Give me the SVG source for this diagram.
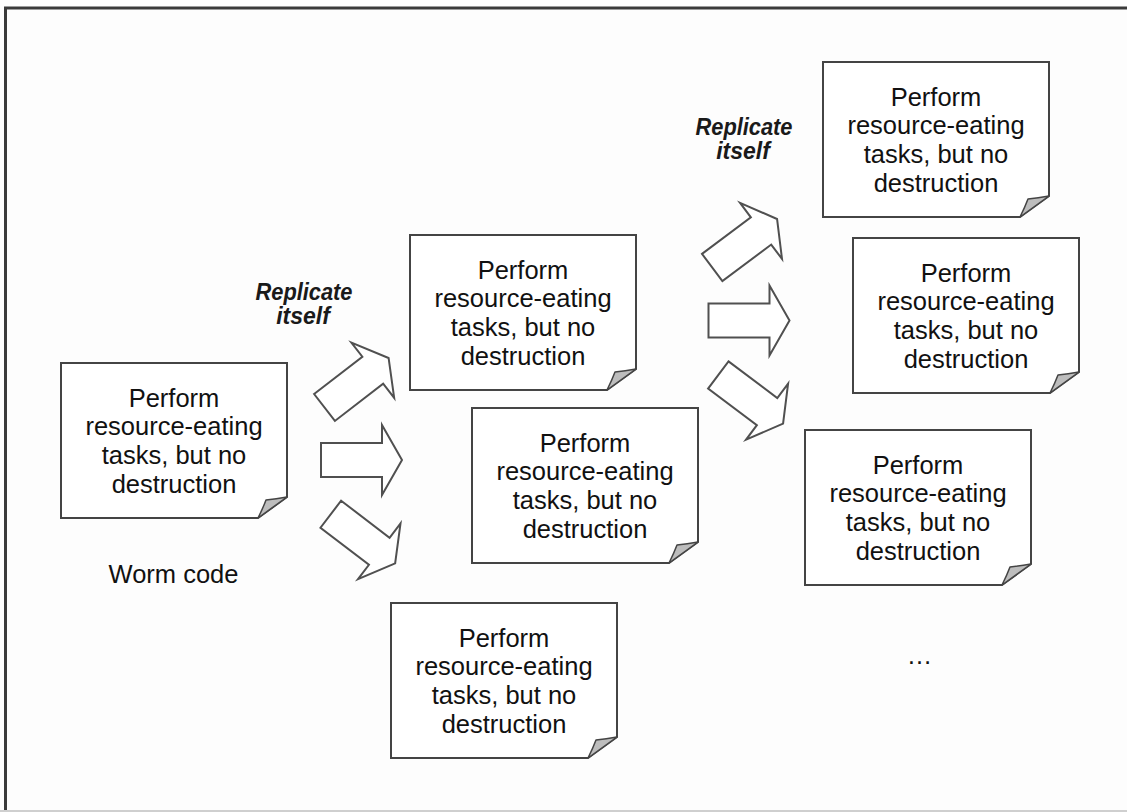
<svg xmlns="http://www.w3.org/2000/svg" width="1127" height="812" viewBox="0 0 1127 812">
<defs>
<style>
.bg{fill:#fdfdfd}
.frame{fill:none;stroke:#3a3a3a;stroke-width:3}
.box{fill:#ffffff;stroke:#444;stroke-width:2;stroke-linejoin:miter}
.fold{fill:#bdbdbd;stroke:#444;stroke-width:1.5;stroke-linejoin:round}
.t{font-family:"Liberation Sans",Arial,sans-serif;font-size:25.5px;fill:#111;text-anchor:middle}
.lbl{font-family:"Liberation Sans",Arial,sans-serif;font-size:23px;font-weight:bold;font-style:italic;fill:#1a1a1a;text-anchor:middle}
.arr{fill:#ffffff;stroke:#505050;stroke-width:2;stroke-linejoin:miter}
</style>
<path id="arrow" d="M0,-17 L61,-17 L61,-35 L81,0 L61,35 L61,17 L0,17 Z"/>
<g id="note">
<path class="box" d="M0,0 H226 V134 L197,155 H0 Z"/>
<path class="fold" d="M197,155 Q202,145 205,137 Q215,136 226,134 Z"/>
<text class="t" x="113" y="43.5">Perform</text>
<text class="t" x="113" y="72.2">resource-eating</text>
<text class="t" x="113" y="100.9">tasks, but no</text>
<text class="t" x="113" y="129.6">destruction</text>
</g>
</defs>
<rect class="bg" x="0" y="0" width="1127" height="812"/>
<path class="frame" d="M5.5,812 V8 H1127"/>
<line x1="0" y1="811" x2="1127" y2="811" stroke="#cfcfcf" stroke-width="2"/>

<g id="connectors">
<use href="#arrow" class="arr" transform="translate(324.5,407.5) rotate(-37.7)"/>
<use href="#arrow" class="arr" transform="translate(321,460)"/>
<use href="#arrow" class="arr" transform="translate(330.8,514.2) rotate(37.4)"/>
<use href="#arrow" class="arr" transform="translate(712.2,267.5) rotate(-36.8)"/>
<use href="#arrow" class="arr" transform="translate(708.5,320.5)"/>
<use href="#arrow" class="arr" transform="translate(718.3,375) rotate(36.9)"/>
</g>

<g id="node-worm"><use href="#note" transform="translate(61,363)"/></g>
<g id="node-gen1-a"><use href="#note" transform="translate(410,235)"/></g>
<g id="node-gen1-b"><use href="#note" transform="translate(472,408)"/></g>
<g id="node-gen1-c"><use href="#note" transform="translate(391,603)"/></g>
<g id="node-gen2-a"><use href="#note" transform="translate(823,62)"/></g>
<g id="node-gen2-b"><use href="#note" transform="translate(853,238)"/></g>
<g id="node-gen2-c"><use href="#note" transform="translate(805,430)"/></g>

<g id="labels">
<text class="lbl" x="304" y="299.5" textLength="97" lengthAdjust="spacingAndGlyphs">Replicate</text>
<text class="lbl" x="303" y="324">itself</text>
<text class="lbl" x="744" y="134.5" textLength="97" lengthAdjust="spacingAndGlyphs">Replicate</text>
<text class="lbl" x="743" y="159">itself</text>
<text class="t" x="173.5" y="582.5">Worm code</text>
<text class="t" x="919.5" y="663.5">…</text>
</g>
</svg>
